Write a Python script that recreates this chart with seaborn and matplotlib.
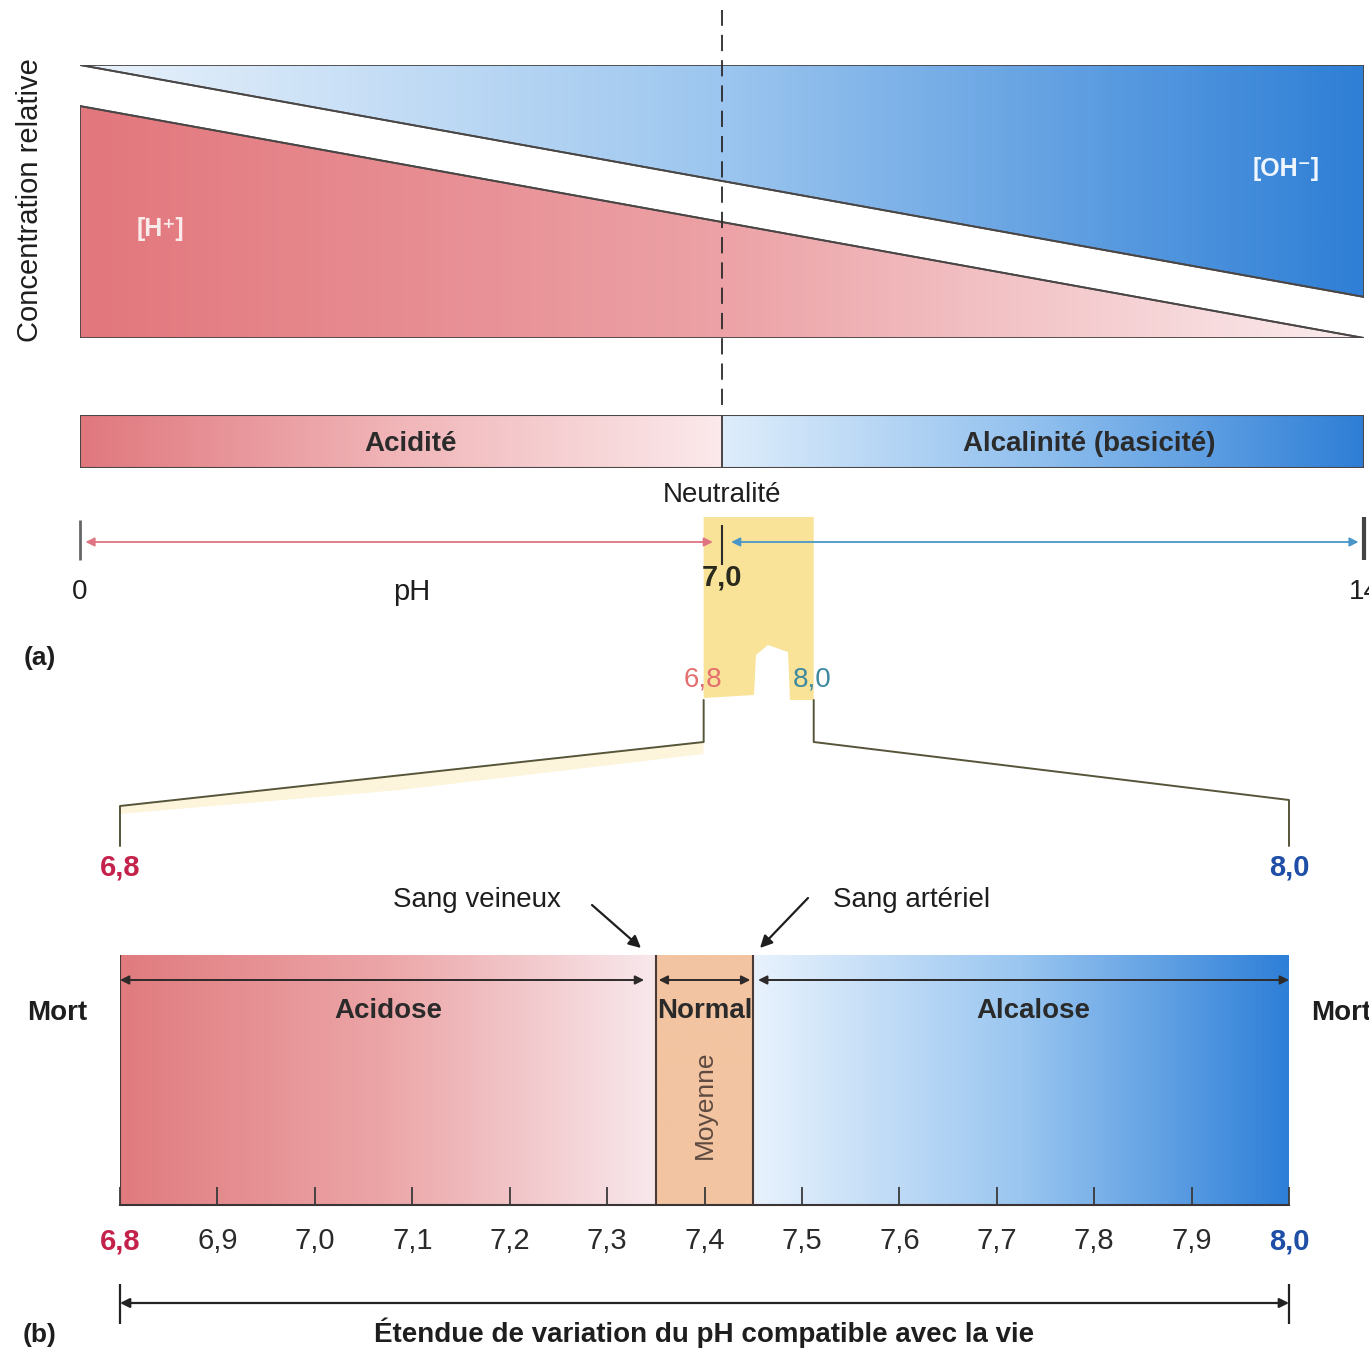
import numpy as np
import matplotlib
matplotlib.use("Agg")
import matplotlib.pyplot as plt
import seaborn as sns
from matplotlib.colors import LinearSegmentedColormap
from matplotlib.patches import Polygon, Rectangle
from matplotlib import font_manager

# ---- data ----
ph_scale = [0, 14]
h_conc = [1.0, 0.0]      # relative [H+] across the pH scale
oh_conc = [0.0, 1.0]     # relative [OH-] across the pH scale
band_gap = 0.177
neutral_ph = 7.0

top_zones = ["Acidité", "Alcalinité (basicité)"]
top_zone_start = [0, 7]
top_zone_end = [7, 14]

zoom_lo = 6.8
zoom_hi = 8.0
zone_names = ["Acidose", "Normal", "Alcalose"]
zone_start = [6.8, 7.35, 7.45]
zone_end = [7.35, 7.45, 8.0]
mean_ph = 7.4
tick_vals = [6.8, 6.9, 7.0, 7.1, 7.2, 7.3, 7.4, 7.5, 7.6, 7.7, 7.8, 7.9, 8.0]
tick_labels = ["6,8", "6,9", "7,0", "7,1", "7,2", "7,3", "7,4",
               "7,5", "7,6", "7,7", "7,8", "7,9", "8,0"]

# ---- style ----
sns.set_theme(style="white")
plt.rcParams['font.family'] = ['Liberation Sans', 'DejaVu Sans']
names = {f.name for f in font_manager.fontManager.ttflist}
narrow = 'Liberation Sans Narrow' if 'Liberation Sans Narrow' in names else 'Liberation Sans'

W, H = 1369, 1350
DARK = '#2b2b2b'
EDGE = '#4a4646'
TXT = '#1e1e1e'


def box(x0, y0, x1, y1):
    return [x0 / W, 1 - y1 / H, (x1 - x0) / W, (y1 - y0) / H]


def px_top(v):
    return 80 + (v - ph_scale[0]) / (ph_scale[1] - ph_scale[0]) * (1364 - 80)


def px_bot(v):
    return 120 + (v - zoom_lo) / (zoom_hi - zoom_lo) * (1289 - 120)


def gradient(ax, x0, x1, y0, y1, colors, clip=None):
    cmap = LinearSegmentedColormap.from_list('g', colors)
    im = ax.imshow(np.linspace(0, 1, 256)[None, :], cmap=cmap, extent=(x0, x1, y0, y1),
                   aspect='auto', origin='lower', interpolation='bicubic', zorder=1)
    if clip is not None:
        im.set_clip_path(clip)
    return im


red_grad = ['#e2777d', '#eca2a6', '#fbecee']
blue_grad = ['#e9f2fb', '#9cc6ef', '#2f7fd6']

fig = plt.figure(figsize=(W / 100, H / 100), dpi=100)

# background layer (highlight + connectors)
ax_bg = fig.add_axes([0, 0, 1, 1])
ax_bg.set_xlim(0, W)
ax_bg.set_ylim(H, 0)
ax_bg.axis('off')

xl, xr = px_top(zoom_lo), px_top(zoom_hi)
yellow = Polygon([(xl, 517), (xr, 517), (xr, 700), (790, 700), (788, 652), (768, 645),
                  (756, 655), (754, 695), (xl, 698)], closed=True,
                 facecolor='#f8df86', edgecolor='none', alpha=0.85)
ax_bg.add_patch(yellow)
ax_bg.add_patch(Polygon([(xl, 742), (px_bot(zoom_lo), 806), (px_bot(zoom_lo), 814),
                         (400, 790), (xl, 754)], closed=True,
                        facecolor='#f8e6a8', edgecolor='none', alpha=0.4))
for v, y_mid in [(zoom_lo, 806), (zoom_hi, 800)]:
    ax_bg.plot([px_top(v), px_top(v), px_bot(v), px_bot(v)], [700, 742, y_mid, 846],
               color='#56553a', lw=1.4)

# ---- (a) relative concentrations ----
ax_conc = fig.add_axes(box(80, 65, 1364, 338))
top = 1 + band_gap
h_poly = Polygon([(ph_scale[0], 0), (ph_scale[0], h_conc[0]), (ph_scale[1], h_conc[1])],
                 closed=True, facecolor='none', edgecolor=EDGE, lw=1.3, zorder=3)
oh_poly = Polygon([(ph_scale[0], top), (ph_scale[1], top),
                   (ph_scale[1], top - oh_conc[1]), (ph_scale[0], top - oh_conc[0])],
                  closed=True, facecolor='none', edgecolor=EDGE, lw=1.3, zorder=3)
ax_conc.add_patch(h_poly)
ax_conc.add_patch(oh_poly)
gradient(ax_conc, ph_scale[0], ph_scale[1], 0, top, red_grad, clip=h_poly)
gradient(ax_conc, ph_scale[0], ph_scale[1], 0, top, blue_grad, clip=oh_poly)
sns.lineplot(x=ph_scale, y=h_conc, ax=ax_conc, color=EDGE, lw=1.3, zorder=4)
sns.lineplot(x=ph_scale, y=[top - c for c in oh_conc], ax=ax_conc, color=EDGE, lw=1.3, zorder=4)
ax_conc.axvline(neutral_ph, ymin=-0.245, ymax=1.2, color=DARK, lw=1.3,
                ls=(0, (9, 5)), clip_on=False, zorder=5)
ax_conc.text(0.88, 0.47, "[H⁺]", color='#fbeaea', fontsize=18, ha='center', va='center',
             fontweight='bold', family=['Liberation Sans', 'DejaVu Sans'])
ax_conc.text(13.15, 0.73, "[OH⁻]", color='#eef5fd', fontsize=18, ha='center', va='center',
             fontweight='bold', family=['Liberation Sans', 'DejaVu Sans'])
ax_conc.set_xlim(ph_scale)
ax_conc.set_ylim(0, top)
ax_conc.axis('off')

# acidity / alkalinity bar
ax_bar = fig.add_axes(box(80, 415, 1364, 468))
gradient(ax_bar, top_zone_start[0], top_zone_end[0], 0, 1, ['#e0787e', '#f1b6b9', '#fbe9eb'])
gradient(ax_bar, top_zone_start[1], top_zone_end[1], 0, 1, ['#deedfb', '#8fbfee', '#2e7ed6'])
ax_bar.add_patch(Rectangle((ph_scale[0], 0), ph_scale[1] - ph_scale[0], 1, fill=False,
                           edgecolor=EDGE, lw=1.5, zorder=3))
ax_bar.axvline(neutral_ph, color=EDGE, lw=1.4, zorder=3)
ax_bar.text(3.6, 0.45, top_zones[0], ha='center', va='center', fontsize=20,
            fontweight='bold', color=DARK, zorder=4)
ax_bar.text(11.0, 0.45, top_zones[1], ha='center', va='center', fontsize=20,
            fontweight='bold', color=DARK, zorder=4)
ax_bar.set_xlim(ph_scale)
ax_bar.set_ylim(0, 1)
ax_bar.axis('off')

# pH scale 0-14
ax_s = fig.add_axes(box(80, 517, 1364, 567))
ax_s.set_facecolor('none')
arrow_kw = dict(arrowstyle='<|-|>', lw=1.3, mutation_scale=13, shrinkA=0, shrinkB=0)
ax_s.annotate('', xy=(ph_scale[0] + 0.06, 0.5), xytext=(neutral_ph - 0.1, 0.5),
              arrowprops=dict(color='#e07483', **arrow_kw))
ax_s.annotate('', xy=(neutral_ph + 0.1, 0.5), xytext=(ph_scale[1] - 0.06, 0.5),
              arrowprops=dict(color='#4a96c8', **arrow_kw))
ax_s.vlines(ph_scale[0], 0.14, 0.94, color='#666', lw=2, clip_on=False)
ax_s.vlines(neutral_ph, 0.04, 0.84, color=DARK, lw=1.5, clip_on=False)
ax_s.vlines(ph_scale[1], 0.14, 1.0, color='#444', lw=3, clip_on=False)
ax_s.set_xlim(ph_scale)
ax_s.set_ylim(0, 1)
ax_s.axis('off')

# ---- (b) physiological range ----
ax_b = fig.add_axes(box(120, 955, 1289, 1205))
zone_colors = [['#e07b7f', '#eca6a8', '#f8e8ec'], ['#f3c4a1', '#f3c4a1'],
               ['#e8f2fd', '#9ac6f0', '#2e7fd8']]
for s, e, c in zip(zone_start, zone_end, zone_colors):
    gradient(ax_b, s, e, 0, 1, c)
for v in [zone_start[0], zone_start[1], zone_end[1]]:
    ax_b.axvline(v, color='#4a3a36', lw=1.5, zorder=3)

arrow_b = dict(arrowstyle='<|-|>', lw=1.4, mutation_scale=13, shrinkA=0, shrinkB=0, color='#2e2a2a')
ax_b.annotate('', xy=(zone_start[0], 0.9), xytext=(zone_end[0] - 0.012, 0.9), arrowprops=arrow_b)
ax_b.annotate('', xy=(zone_start[1] + 0.003, 0.9), xytext=(zone_end[1] - 0.003, 0.9), arrowprops=arrow_b)
ax_b.annotate('', xy=(zone_start[2] + 0.005, 0.9), xytext=(zone_end[2], 0.9), arrowprops=arrow_b)

label_x = [7.075, mean_ph, 7.738]
for name, lx in zip(zone_names, label_x):
    ax_b.text(lx, 0.775, name, ha='center', va='center', fontsize=20, fontweight='bold',
              color='#2a2a2a', zorder=4)
ax_b.text(mean_ph, 0.4, "Moyenne", rotation=90, ha='center', va='center', fontsize=19,
          color='#5e4a40', zorder=4)

ax_b.set_xlim(zoom_lo, zoom_hi)
ax_b.set_ylim(0, 1)
ax_b.set_axisbelow(False)
ax_b.set_yticks([])
ax_b.set_xticks(tick_vals, tick_labels)
ax_b.tick_params(axis='x', bottom=True, direction='in', length=13, width=1.3, color='#3a3a3a',
                 pad=16, labelsize=21, labelcolor='#2a2a2a')
for lab in ax_b.get_xticklabels():
    lab.set_family(narrow)
ticks = ax_b.get_xticklabels()
ticks[0].set_color('#c4224a')
ticks[0].set_fontweight('bold')
ticks[-1].set_color('#1f4ea6')
ticks[-1].set_fontweight('bold')
for side in ['top', 'right', 'left']:
    ax_b.spines[side].set_visible(False)
ax_b.spines['bottom'].set_color('#3a3434')
ax_b.spines['bottom'].set_linewidth(1.5)
ax_b.set_facecolor('none')

# span compatible with life
y_rng = (1205 - 1303) / 250
ax_b.annotate('', xy=(zoom_lo, y_rng), xytext=(zoom_hi, y_rng), annotation_clip=False,
              arrowprops=dict(arrowstyle='<|-|>', lw=1.6, mutation_scale=14, shrinkA=0,
                              shrinkB=0, color='#222'))
ax_b.vlines([zoom_lo, zoom_hi], y_rng + 0.075, y_rng - 0.085, color='#222', lw=1.6, clip_on=False)
ax_b.text(mean_ph, (1205 - 1333) / 250, "Étendue de variation du pH compatible avec la vie",
          ha='center', va='center', fontsize=20, fontweight='bold', color=TXT)

# zoom labels above panel (b)
ax_b.text(zoom_lo, (1205 - 868) / 250, "6,8", ha='center', va='center', fontsize=21,
          fontweight='bold', color='#c4224a', family=narrow)
ax_b.text(zoom_hi, (1205 - 868) / 250, "8,0", ha='center', va='center', fontsize=21,
          fontweight='bold', color='#1f4ea6', family=narrow)

# ---- free text layer ----
ax_t = fig.add_axes([0, 0, 1, 1])
ax_t.set_facecolor('none')
ax_t.set_xlim(0, W)
ax_t.set_ylim(H, 0)
ax_t.axis('off')

ax_t.text(30, 200, "Concentration relative", rotation=90, ha='center', va='center',
          fontsize=21, color=TXT)
ax_t.text(722, 495, "Neutralité", ha='center', va='center', fontsize=20, color=TXT)
ax_t.text(80, 592, "0", ha='center', va='center', fontsize=20, color=TXT)
ax_t.text(412, 592, "pH", ha='center', va='center', fontsize=21, color=TXT)
ax_t.text(722, 578, "7,0", ha='center', va='center', fontsize=21, color='#2a2a1e',
          fontweight='bold', family=narrow)
ax_t.text(1364, 592, "14", ha='center', va='center', fontsize=20, color=TXT)
ax_t.text(40, 658, "(a)", ha='center', va='center', fontsize=19, fontweight='bold', color=TXT)
ax_t.text(40, 1335, "(b)", ha='center', va='center', fontsize=19, fontweight='bold', color=TXT)
ax_t.text(703, 680, "6,8", ha='center', va='center', fontsize=20, color='#e46f6f', family=narrow)
ax_t.text(812, 680, "8,0", ha='center', va='center', fontsize=20, color='#3d8aa0', family=narrow)

ax_t.text(57, 1013, "Mort", ha='center', va='center', fontsize=20, fontweight='bold', color=TXT)
ax_t.text(1311, 1013, "Mort", ha='left', va='center', fontsize=20, fontweight='bold', color=TXT)

ax_t.text(477, 900, "Sang veineux", ha='center', va='center', fontsize=20, color=TXT)
ax_t.text(912, 900, "Sang artériel", ha='center', va='center', fontsize=20, color=TXT)
pointer = dict(arrowstyle='-|>', lw=1.6, mutation_scale=18, color=TXT, shrinkA=0, shrinkB=0)
ax_t.annotate('', xy=(641, 948), xytext=(592, 905), arrowprops=pointer)
ax_t.annotate('', xy=(760, 948), xytext=(808, 898), arrowprops=pointer)

fig.savefig('out.png', dpi=100, facecolor='white')
